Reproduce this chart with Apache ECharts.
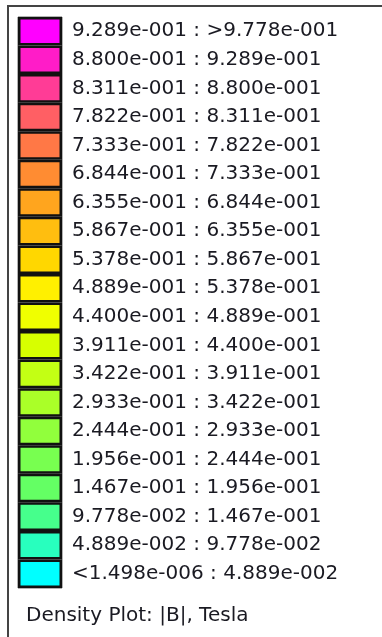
<!DOCTYPE html>
<html>
<head>
<meta charset="utf-8">
<script src="https://cdn.jsdelivr.net/npm/echarts@6/dist/echarts.min.js"></script>
<style>
html,body{margin:0;padding:0;background:#fff;}
#chart{width:382px;height:637px;}
</style>
</head>
<body>
<div id="chart"></div>
<script>
// Legend bins (top to bottom)
const lowerBounds = ['9.289e-001','8.800e-001','8.311e-001','7.822e-001','7.333e-001','6.844e-001','6.355e-001','5.867e-001','5.378e-001','4.889e-001','4.400e-001','3.911e-001','3.422e-001','2.933e-001','2.444e-001','1.956e-001','1.467e-001','9.778e-002','4.889e-002','<1.498e-006'];
const upperBounds = ['>9.778e-001','9.289e-001','8.800e-001','8.311e-001','7.822e-001','7.333e-001','6.844e-001','6.355e-001','5.867e-001','5.378e-001','4.889e-001','4.400e-001','3.911e-001','3.422e-001','2.933e-001','2.444e-001','1.956e-001','1.467e-001','9.778e-002','4.889e-002'];
const binColors = ['#FF00FF','#FF1CC8','#FF3C96','#FF5F64','#FF7846','#FF8C32','#FFA51E','#FFBE0F','#FFD700','#FFF000','#F0FF00','#D7FF00','#C3FF14','#AAFF28','#91FF3C','#78FF50','#64FF64','#46FF8C','#28FFBE','#00FFFF'];
const swatchValue = lowerBounds.map(() => 1);
const plotTitle = 'Density Plot: |B|, Tesla';

const chart = echarts.init(document.getElementById('chart'), null, {renderer:'canvas'});
const FONT = 'DejaVu Sans';
chart.setOption({
  animation: false,
  backgroundColor: '#fff',
  title: {
    text: plotTitle,
    left: 21, top: 601,
    textStyle: {fontFamily: FONT, fontSize: 20, fontWeight: 'normal', color: '#1a1a22'}
  },
  grid: {left: 18, top: 17, width: 44, height: 571, show: true, borderColor: '#666', borderWidth: 1},
  xAxis: {type: 'value', min: 0, max: 1, show: false},
  yAxis: {type: 'category', inverse: true, data: lowerBounds, show: false},
  series: [{
    type: 'bar',
    barCategoryGap: '0%',
    data: swatchValue.map((v, i) => ({value: v, itemStyle: {color: binColors[i]}})),
    itemStyle: {borderColor: '#111', borderWidth: 2.5},
    label: {
      show: true, position: 'right', distance: 10,
      fontFamily: FONT, fontSize: 20, color: '#1a1a22',
      formatter: p => lowerBounds[p.dataIndex] + ' : ' + upperBounds[p.dataIndex]
    }
  }],
  graphic: [
    {type: 'line', shape: {x1: 7, y1: 6, x2: 382, y2: 6}, style: {stroke: '#444', lineWidth: 2}},
    {type: 'line', shape: {x1: 8, y1: 5, x2: 8, y2: 637}, style: {stroke: '#444', lineWidth: 2}}
  ]
});
</script>
</body>
</html>
